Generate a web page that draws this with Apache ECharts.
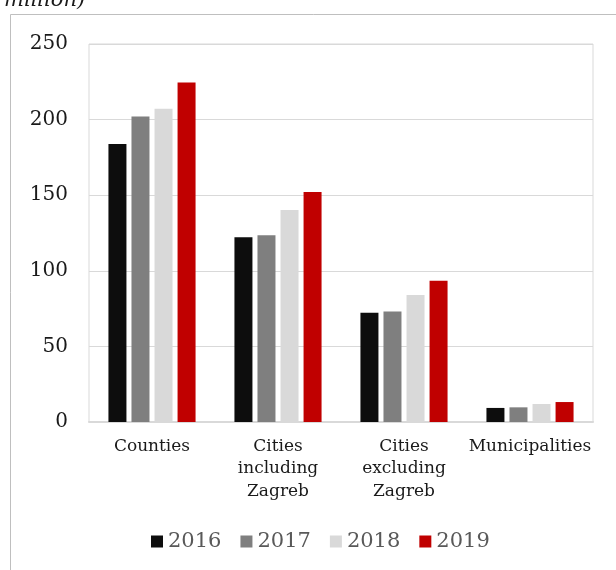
<!DOCTYPE html>
<html>
<head>
<meta charset="utf-8">
<script src="https://cdn.jsdelivr.net/npm/echarts@6/dist/echarts.min.js"></script>
<style>
html,body{margin:0;padding:0;background:#fff;}
#c{width:616px;height:570px;}
</style>
</head>
<body>
<div id="c"></div>
<script>
var categories = ['Counties', 'Cities\nincluding\nZagreb', 'Cities\nexcluding\nZagreb', 'Municipalities'];
var years = ['2016', '2017', '2018', '2019'];
var v2016 = [183.9, 122.2, 72.3, 9.3];
var v2017 = [202.0, 123.5, 73.0, 9.7];
var v2018 = [207.2, 140.2, 84.0, 11.9];
var v2019 = [224.6, 152.1, 93.5, 13.2];
var yTicks = [0, 50, 100, 150, 200, 250];
var colors = ['#0d0d0d', '#7f7f7f', '#d9d9d9', '#c00000'];

var seriesValues = [v2016, v2017, v2018, v2019];
var FONT = 'DejaVu Serif';
var chart = echarts.init(document.getElementById('c'), null, {renderer: 'canvas'});
chart.setOption({
  animation: false,
  backgroundColor: '#fff',
  graphic: [
    {type: 'rect', shape: {x: 10.5, y: 14.5, width: 800, height: 800},
     style: {fill: 'none', stroke: '#bfbfbf', lineWidth: 1}},
    {type: 'text', left: 4, top: -10,
     style: {text: 'million)', font: 'italic 21px "DejaVu Serif"', fill: '#1a1a1a'}}
  ],
  grid: {left: 89, top: 44, right: 23, bottom: 148, show: true, borderColor: '#d9d9d9', borderWidth: 1},
  legend: {
    data: years, left: 146, top: 526, itemWidth: 12, itemHeight: 12, itemGap: 19,
    icon: 'rect',
    textStyle: {fontFamily: FONT, fontSize: 21, color: '#595959'}
  },
  xAxis: {
    type: 'category', data: categories,
    axisLine: {lineStyle: {color: '#d9d9d9', width: 2}},
    axisTick: {show: false},
    axisLabel: {fontFamily: FONT, fontSize: 17, color: '#1a1a1a', lineHeight: 22.5, margin: 13, interval: 0}
  },
  yAxis: {
    type: 'value', min: yTicks[0], max: yTicks[yTicks.length - 1], interval: 50,
    axisLine: {show: false}, axisTick: {show: false},
    splitLine: {lineStyle: {color: '#d9d9d9', width: 1}},
    axisLabel: {fontFamily: FONT, fontSize: 20, color: '#1a1a1a', margin: 21}
  },
  series: years.map(function (y, i) {
    return {
      name: y, type: 'bar', data: seriesValues[i],
      barWidth: 18, barGap: '28%',
      itemStyle: {color: colors[i]}
    };
  })
});
</script>
</body>
</html>
